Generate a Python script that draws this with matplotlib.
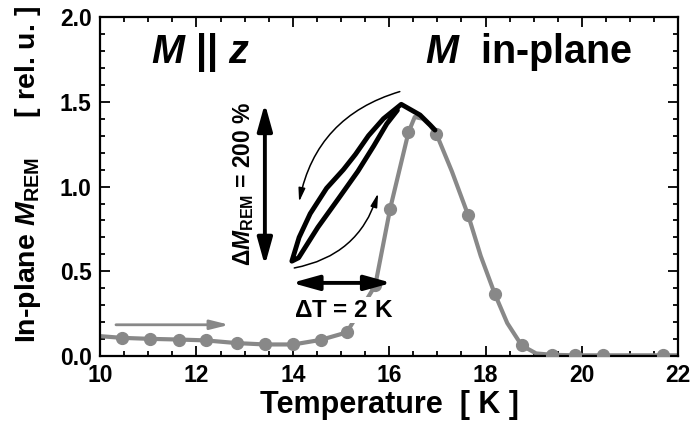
import matplotlib
matplotlib.use("Agg")
import matplotlib.pyplot as plt
from matplotlib.ticker import MultipleLocator, FormatStrFormatter

plt.rcParams['font.family'] = ['Liberation Sans', 'DejaVu Sans']
plt.rcParams['font.weight'] = 'bold'
plt.rcParams['mathtext.fontset'] = 'custom'
plt.rcParams['mathtext.rm'] = 'Liberation Sans:bold'
plt.rcParams['mathtext.bf'] = 'Liberation Sans:bold'
plt.rcParams['mathtext.it'] = 'Liberation Sans:bold:italic'
plt.rcParams['mathtext.bfit'] = 'Liberation Sans:bold:italic'

GRAY = '#888888'

# measured points (gray markers)
temp_pts = [10.45, 11.04, 11.64, 12.19, 12.84, 13.42, 14.01, 14.58, 15.12,
            15.71, 16.02, 16.40, 16.98, 17.64, 18.19, 18.75, 19.38, 19.85,
            20.44, 21.69]
mrem_pts = [0.108, 0.102, 0.098, 0.093, 0.077, 0.069, 0.069, 0.096, 0.14,
            0.417, 0.87, 1.32, 1.31, 0.83, 0.368, 0.063, 0.008, 0.005,
            0.005, 0.005]

# gray guide line through the points (peak hidden under the loop)
temp_line = [10.0, 10.45, 11.04, 11.64, 12.19, 12.84, 13.42, 14.01, 14.58,
             15.12, 15.71, 16.02, 16.40, 16.53, 16.70, 16.85, 16.98, 17.30,
             17.64, 17.90, 18.19, 18.45, 18.75, 19.05, 19.38, 19.85, 20.44,
             21.69, 22.0]
mrem_line = [0.118, 0.108, 0.102, 0.098, 0.093, 0.077, 0.069, 0.069, 0.096,
             0.14, 0.417, 0.87, 1.32, 1.41, 1.40, 1.36, 1.31, 1.09,
             0.83, 0.59, 0.368, 0.195, 0.063, 0.016, 0.008, 0.005, 0.005,
             0.005, 0.005]

# black hysteresis loop (right end -> peak -> upper-left branch -> tip -> lower-right branch)
loop_t = [16.95, 16.85, 16.64, 16.25, 15.88, 15.57, 15.30, 15.05, 14.70, 14.36,
          14.13, 13.98, 14.12, 14.52, 14.95, 15.35, 15.68, 15.95, 16.17]
loop_m = [1.333, 1.363, 1.422, 1.485, 1.40, 1.30, 1.19, 1.10, 0.99, 0.84,
          0.70, 0.56, 0.58, 0.76, 0.93, 1.09, 1.24, 1.37, 1.45]

fig = plt.figure(figsize=(6.95, 4.24), dpi=100)
ax = fig.add_axes([0.144, 0.160, 0.832, 0.800])

ax.plot(temp_line, mrem_line, color=GRAY, lw=3, zorder=2)
ax.plot(temp_pts, mrem_pts, 'o', color=GRAY, ms=8.5, zorder=3)
ax.plot(loop_t, loop_m, color='black', lw=3.5, solid_joinstyle='round',
        solid_capstyle='round', zorder=4)

# thin curved arrows along the loop
thin = '-|>,head_length=0.8,head_width=0.2'
ax.annotate('', xy=(14.13, 0.91), xytext=(16.22, 1.56),
            arrowprops=dict(arrowstyle=thin, lw=1.1, color='black',
                            mutation_scale=10, shrinkA=0, shrinkB=0,
                            connectionstyle='arc3,rad=0.3'))
ax.annotate('', xy=(15.77, 0.96), xytext=(14.03, 0.52),
            arrowprops=dict(arrowstyle=thin, lw=1.1, color='black',
                            mutation_scale=10, shrinkA=0, shrinkB=0,
                            connectionstyle='arc3,rad=0.3'))

# double arrows
dbl = '<|-|>,head_length=0.9,head_width=0.25'
ax.annotate('', xy=(13.42, 1.49), xytext=(13.42, 0.535),
            arrowprops=dict(arrowstyle=dbl, lw=2.8, color='black',
                            mutation_scale=18, shrinkA=0, shrinkB=0))
ax.annotate('', xy=(16.05, 0.432), xytext=(13.98, 0.432),
            arrowprops=dict(arrowstyle=dbl, lw=2.8, color='black',
                            mutation_scale=18, shrinkA=0, shrinkB=0))
# gray heating arrow
ax.annotate('', xy=(12.68, 0.185), xytext=(10.33, 0.185),
            arrowprops=dict(arrowstyle='-|>,head_length=0.8,head_width=0.2',
                            lw=2, color=GRAY, mutation_scale=14,
                            shrinkA=0, shrinkB=0))

ax.text(15.05, 0.27, r'$\Delta$T = 2 K', fontsize=17.5, fontweight='bold',
        ha='center', va='center', zorder=5,
        bbox=dict(facecolor='white', edgecolor='none', pad=1))
ax.text(12.97, 1.015, r'$\Delta\mathbfit{M}_{\mathbf{REM}}$ = 200 %', fontsize=16.5,
        fontweight='bold', rotation=90, ha='center', va='center')
ax.text(12.085, 1.73, r'$\mathbfit{M}$ $\mathbf{||}$ $\mathbfit{z}$', fontsize=28.5,
        ha='center', va='baseline')
ax.text(18.9, 1.73, r'$\mathbfit{M}$  in-plane', fontsize=28.5, fontweight='bold',
        ha='center', va='baseline')

ax.set_xlim(10, 22)
ax.set_ylim(0, 2.0)
ax.xaxis.set_major_locator(MultipleLocator(2))
ax.xaxis.set_minor_locator(MultipleLocator(0.5))
ax.yaxis.set_major_locator(MultipleLocator(0.5))
ax.yaxis.set_minor_locator(MultipleLocator(0.1))
ax.yaxis.set_major_formatter(FormatStrFormatter('%.1f'))
ax.tick_params(which='both', direction='in', top=True, right=True, width=1.3)
ax.tick_params(which='major', length=7, labelsize=16.5)
ax.tick_params(axis='x', which='major', pad=6)
ax.tick_params(axis='y', which='major', pad=6)
ax.tick_params(which='minor', length=3.5)
for lab in ax.get_xticklabels() + ax.get_yticklabels():
    lab.set_fontweight('bold')
for sp in ax.spines.values():
    sp.set_linewidth(1.6)

ax.set_xlabel('Temperature  [ K ]', fontsize=22, fontweight='bold', labelpad=2)
ax.set_ylabel(r'In-plane $\mathbfit{M}_{\mathbf{REM}}$     [ rel. u. ]', fontsize=20.5,
              fontweight='bold', labelpad=12)
ax.yaxis.label.set_y(0.536)

fig.savefig('out.png', dpi=100)
